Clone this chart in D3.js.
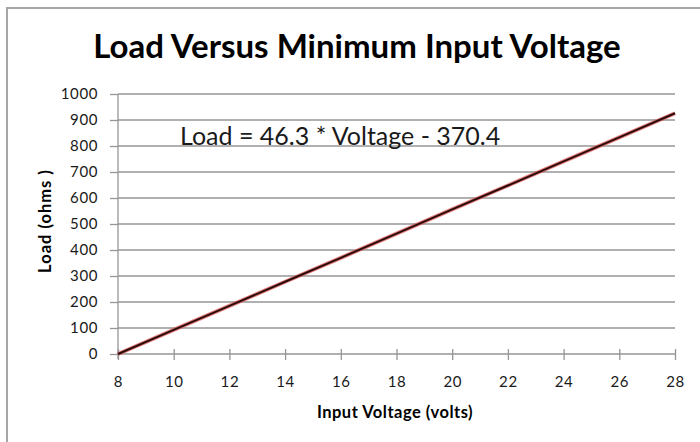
<!DOCTYPE html>
<html>
<head>
<meta charset="utf-8">
<script src="https://cdn.jsdelivr.net/npm/d3@7"></script>
<style>
  html, body { margin: 0; padding: 0; background: #fff; }
  svg text { font-family: Lato, "Open Sans", sans-serif; }
</style>
</head>
<body>
<div id="chart"></div>
<script>
// Load vs minimum input voltage
const voltages = [8, 10, 12, 14, 16, 18, 20, 22, 24, 26, 28];
const loads = [0, 93, 185, 278, 370, 463, 556, 648, 741, 833, 926];
const xTicks = [8, 10, 12, 14, 16, 18, 20, 22, 24, 26, 28];
const yTicks = [0, 100, 200, 300, 400, 500, 600, 700, 800, 900, 1000];
const titleText = 'Load Versus Minimum Input Voltage';
const equationText = 'Load = 46.3 * Voltage - 370.4';

const width = 700, height = 442;
const margin = { top: 94, right: 25, bottom: 88, left: 118 };
const w = width - margin.left - margin.right;
const h = height - margin.top - margin.bottom;

const svg = d3.select('#chart').append('svg')
    .attr('width', width)
    .attr('height', height);

// chart frame
svg.append('rect')
    .attr('x', 7).attr('y', 8)
    .attr('width', 720).attr('height', 460)
    .attr('fill', '#fff')
    .attr('stroke', '#a6a6a6')
    .attr('stroke-width', 2);

const g = svg.append('g')
    .attr('transform', `translate(${margin.left},${margin.top})`);

const xScale = d3.scaleLinear().domain([8, 28]).range([0, w]);
const yScale = d3.scaleLinear().domain([0, 1000]).range([h, 0]);

// horizontal grid
g.selectAll('.grid-h')
    .data(yTicks.filter(d => d > 0))
    .join('line')
    .attr('x1', 0).attr('x2', w)
    .attr('y1', d => yScale(d)).attr('y2', d => yScale(d))
    .attr('stroke', '#969696')
    .attr('stroke-width', 1.3);

// y axis
const yAxis = g.append('g')
    .call(d3.axisLeft(yScale).tickValues(yTicks).tickSize(8).tickPadding(12).tickFormat(d3.format('d')));
yAxis.select('.domain').attr('stroke', '#969696').attr('stroke-width', 1.3)
    .attr('d', `M0,${h + 5}V0`);
yAxis.selectAll('.tick line').attr('stroke', '#969696').attr('stroke-width', 1.3);
yAxis.selectAll('.tick text')
    .attr('fill', '#1a1a1a')
    .style('font-size', '15px')
    .style('letter-spacing', '0.6px');

// x axis (ticks cross the axis line)
const xAxis = g.append('g')
    .attr('transform', `translate(0,${h})`)
    .call(d3.axisBottom(xScale).tickValues(xTicks).tickSize(6).tickPadding(16).tickFormat(d3.format('d')));
xAxis.select('.domain').attr('stroke', '#969696').attr('stroke-width', 1.3)
    .attr('d', `M0,0H${w}`);
xAxis.selectAll('.tick line')
    .attr('y1', -5)
    .attr('stroke', '#969696').attr('stroke-width', 1.3);
xAxis.selectAll('.tick text')
    .attr('fill', '#1a1a1a')
    .style('font-size', '15px')
    .style('letter-spacing', '0.6px');

// line: red halo under dark core
const lineGen = d3.line()
    .x((d, i) => xScale(voltages[i]))
    .y(d => yScale(d));

g.append('path')
    .datum(loads)
    .attr('fill', 'none')
    .attr('stroke', '#d9534f')
    .attr('stroke-opacity', 0.75)
    .attr('stroke-width', 4)
    .attr('d', lineGen);

g.append('path')
    .datum(loads)
    .attr('fill', 'none')
    .attr('stroke', '#2b0b0b')
    .attr('stroke-width', 2)
    .attr('d', lineGen);

// equation annotation
svg.append('text')
    .attr('x', 180)
    .attr('y', 145)
    .style('font-size', '25px')
    .attr('fill', '#1a1a1a')
    .text(equationText);

// title
svg.append('text')
    .attr('x', 357)
    .attr('y', 58)
    .attr('text-anchor', 'middle')
    .style('font-size', '33px')
    .style('font-weight', 'bold')
    .attr('fill', '#000')
    .text(titleText);

// axis titles
svg.append('text')
    .attr('x', 395)
    .attr('y', 418)
    .attr('text-anchor', 'middle')
    .style('font-size', '16.5px')
    .style('font-weight', 'bold')
    .style('letter-spacing', '0.5px')
    .attr('fill', '#000')
    .text('Input Voltage (volts)');

svg.append('text')
    .attr('transform', 'rotate(-90)')
    .attr('x', -221)
    .attr('y', 51)
    .attr('text-anchor', 'middle')
    .style('font-size', '16.5px')
    .style('font-weight', 'bold')
    .style('letter-spacing', '1px')
    .attr('fill', '#000')
    .text('Load (ohms )');
</script>
</body>
</html>
